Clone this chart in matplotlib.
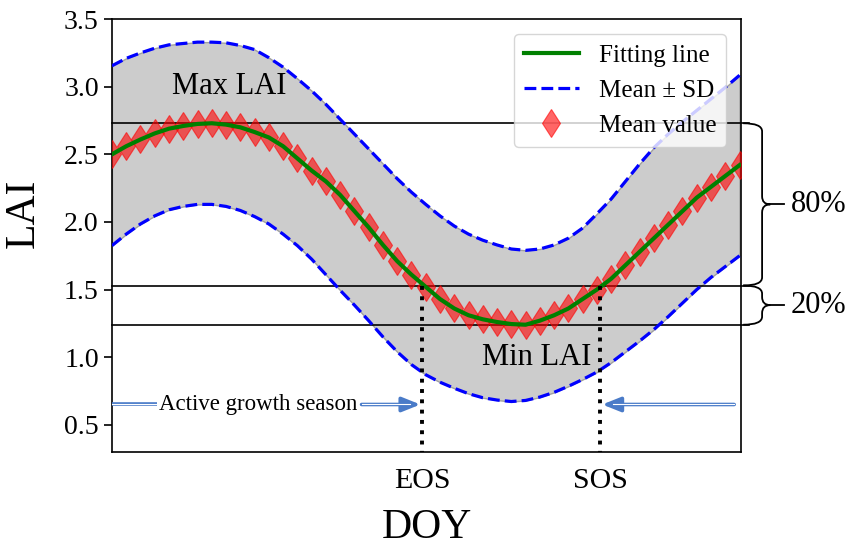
import numpy as np
import matplotlib.pyplot as plt
from matplotlib.path import Path
from matplotlib.patches import PathPatch
from matplotlib.transforms import blended_transform_factory

plt.rcParams['font.family'] = ['Liberation Serif', 'DejaVu Serif']

# 8-day composites
doy = np.arange(1, 361, 8)[:45]

lai_mean = [2.50, 2.56, 2.61, 2.655, 2.69, 2.71, 2.725, 2.73, 2.72, 2.70,
            2.665, 2.625, 2.56, 2.47, 2.38, 2.30, 2.20, 2.08, 1.96, 1.83,
            1.71, 1.61, 1.52, 1.43, 1.36, 1.31, 1.28, 1.26, 1.245, 1.24,
            1.27, 1.31, 1.36, 1.43, 1.50, 1.58, 1.68, 1.78, 1.88, 1.98,
            2.08, 2.18, 2.26, 2.34, 2.42]
lai_upper = [3.155, 3.21, 3.25, 3.285, 3.31, 3.32, 3.33, 3.33, 3.325, 3.305,
             3.275, 3.215, 3.145, 3.06, 2.97, 2.87, 2.76, 2.65, 2.54, 2.43,
             2.32, 2.22, 2.13, 2.045, 1.97, 1.91, 1.865, 1.83, 1.80, 1.79,
             1.80, 1.83, 1.88, 1.955, 2.06, 2.17, 2.30, 2.43, 2.55, 2.65,
             2.74, 2.825, 2.91, 2.995, 3.085]
lai_lower = [1.825, 1.91, 1.985, 2.045, 2.09, 2.115, 2.13, 2.13, 2.115, 2.085,
             2.04, 1.985, 1.91, 1.825, 1.725, 1.61, 1.495, 1.385, 1.27, 1.15,
             1.04, 0.945, 0.87, 0.815, 0.77, 0.73, 0.70, 0.683, 0.672, 0.68,
             0.705, 0.74, 0.785, 0.835, 0.89, 0.96, 1.04, 1.12, 1.205, 1.30,
             1.40, 1.50, 1.59, 1.67, 1.75]

lai_max = 2.73
lai_min = 1.24
lai_thr = 1.53
eos_doy = 175
sos_doy = 275

fig = plt.figure(figsize=(8.61, 5.47), dpi=100)
ax = fig.add_axes([0.130, 0.174, 0.731, 0.791])

ax.fill_between(doy, lai_lower, lai_upper, facecolor='#cccccc', edgecolor='#a0a0a0', lw=1, zorder=1)
h_sd, = ax.plot(doy, lai_upper, '--', color='blue', lw=2.3, label='Mean ± SD', zorder=3)
ax.plot(doy, lai_lower, '--', color='blue', lw=2.3, zorder=3)
h_mv, = ax.plot(doy, lai_mean, 'd', color='red', alpha=0.6, ms=14.5, mew=0.8,
                label='Mean value', zorder=4)
h_fit, = ax.plot(doy, lai_mean, '-', color='green', lw=3, label='Fitting line', zorder=5)

for lev in [lai_max, lai_thr, lai_min]:
    ax.axhline(lev, xmin=0, xmax=1.012, color='black', lw=1.2, clip_on=False, zorder=2)

ax.plot([eos_doy, eos_doy], [lai_thr, 0.3], ':', color='black', lw=2.8, zorder=6)
ax.plot([sos_doy, sos_doy], [lai_thr, 0.3], ':', color='black', lw=2.8, zorder=6)

ax.text(67, 3.0, 'Max LAI', fontsize=22, ha='center', va='center')
ax.text(239, 1.0, 'Min LAI', fontsize=22, ha='center', va='center')

# active growth season arrows
arr_c = '#4a7bc8'
ay = 0.65
ax.text(83, ay, 'Active growth season', fontsize=16.5, ha='center', va='center', zorder=7)
ax.plot([1, 26], [ay, ay], color=arr_c, lw=2.6, solid_capstyle='butt', zorder=6)
ax.plot([1, 26], [ay, ay], color='white', lw=0.8, zorder=6)
for x0, x1 in [(141, eos_doy - 1), (350, sos_doy + 1)]:
    ax.annotate('', xy=(x1, ay), xytext=(x0, ay),
                arrowprops=dict(arrowstyle='-|>,head_length=0.55,head_width=0.22',
                                color=arr_c, lw=2.6, shrinkA=0, shrinkB=0,
                                mutation_scale=20), zorder=6)
    xe = x1 - 6 if x1 > x0 else x1 + 6
    ax.plot([x0, xe], [ay, ay], color='white', lw=0.8, zorder=7)

# braces
tr = blended_transform_factory(ax.transAxes, ax.transData)


def brace(y_top, y_bot, r=0.06):
    x0, xm, xt, xe = 1.003, 1.033, 1.046, 1.068
    ymid = (y_top + y_bot) / 2
    verts = [(x0, y_top), (xm, y_top), (xm, y_top - r),
             (xm, ymid + r), (xm, ymid), (xt, ymid),
             (xm, ymid), (xm, ymid - r),
             (xm, y_bot + r), (xm, y_bot), (x0, y_bot)]
    codes = [Path.MOVETO, Path.CURVE3, Path.CURVE3,
             Path.LINETO, Path.CURVE3, Path.CURVE3,
             Path.CURVE3, Path.CURVE3,
             Path.LINETO, Path.CURVE3, Path.CURVE3]
    ax.add_patch(PathPatch(Path(verts, codes), transform=tr, fill=False,
                           lw=1.3, color='black', clip_on=False))
    ax.plot([xt, xe], [ymid, ymid], color='black', lw=1.3, transform=tr, clip_on=False)
    return ymid


m1 = brace(lai_max, lai_thr)
m2 = brace(lai_thr, lai_min)
ax.text(1.078, m1, '80%', fontsize=22, ha='left', va='center', transform=tr)
ax.text(1.078, m2, '20%', fontsize=22, ha='left', va='center', transform=tr)

ax.set_xlim(1, 354)
ax.set_ylim(0.3, 3.5)
ax.set_yticks(np.arange(0.5, 3.51, 0.5))
ax.set_yticklabels(['%.1f' % v for v in np.arange(0.5, 3.51, 0.5)], fontsize=20)
ax.set_xticks([eos_doy, sos_doy])
ax.set_xticklabels(['EOS', 'SOS'], fontsize=21.5)
ax.tick_params(axis='x', length=0, pad=12)
ax.tick_params(axis='y', length=6, width=1.2)
for s in ax.spines.values():
    s.set_linewidth(1.2)

ax.set_ylabel('LAI', fontsize=30)
ax.yaxis.set_label_coords(-0.11, 0.552)
ax.set_xlabel('DOY', fontsize=30)
ax.xaxis.set_label_coords(0.5, -0.13)

ax.legend(handles=[h_fit, h_sd, h_mv], loc='upper right', fontsize=18,
          borderaxespad=0.6, handlelength=2.2)

fig.savefig('out.png', dpi=100)
